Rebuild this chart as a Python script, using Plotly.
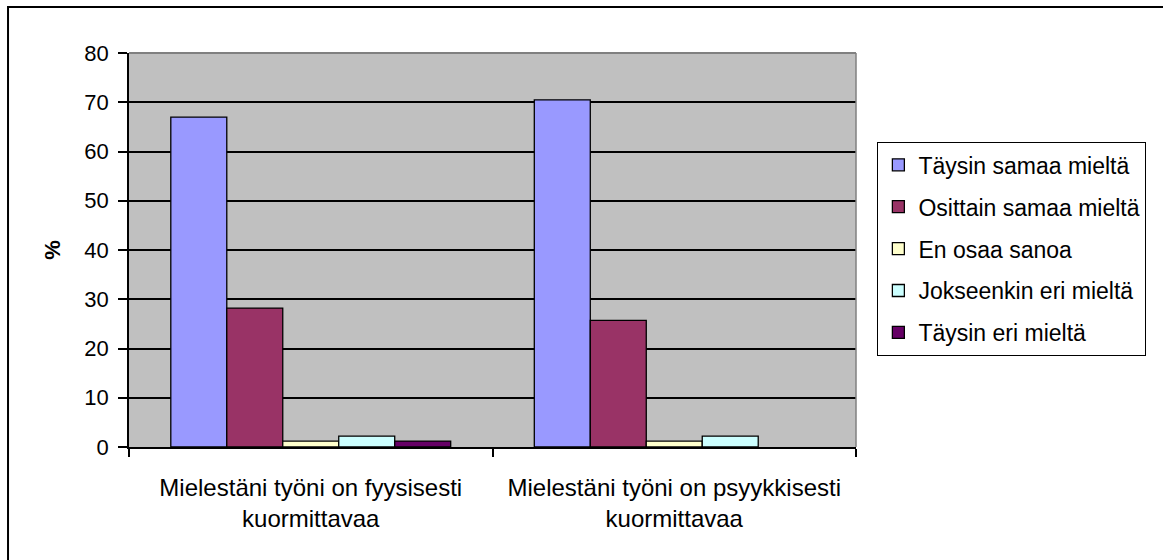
import plotly.graph_objects as go

categories = ["Mielestäni työni on fyysisesti<br>kuormittavaa",
              "Mielestäni työni on psyykkisesti<br>kuormittavaa"]
series_names = ["Täysin samaa mieltä", "Osittain samaa mieltä", "En osaa sanoa",
                "Jokseenkin eri mieltä", "Täysin eri mieltä"]
taysin_samaa = [67.0, 70.5]
osittain_samaa = [28.2, 25.7]
en_osaa = [1.2, 1.2]
jokseenkin_eri = [2.2, 2.2]
taysin_eri = [1.2, None]
series_values = [taysin_samaa, osittain_samaa, en_osaa, jokseenkin_eri, taysin_eri]
colors = ["#9999FF", "#993366", "#FFFFCC", "#CCFFFF", "#660066"]
y_ticks = [0, 10, 20, 30, 40, 50, 60, 70, 80]

FONT = "Liberation Sans, Arial, sans-serif"

fig = go.Figure()
for i, (name, vals, col) in enumerate(zip(series_names, series_values, colors)):
    fig.add_trace(go.Bar(
        x=categories, y=vals, name=name, legendgroup=f"g{i}",
        marker=dict(color=col, line=dict(color="black", width=1.3)),
    ))

fig.update_layout(
    width=1163, height=560,
    margin=dict(l=129, r=307, t=53, b=113),
    paper_bgcolor="white", plot_bgcolor="#C0C0C0",
    barmode="group", bargap=0.23, bargroupgap=0,
    font=dict(family=FONT, color="black"),
    showlegend=True,
    legend=dict(
        x=1.029, y=0.774, xanchor="left", yanchor="top",
        bgcolor="white", bordercolor="black", borderwidth=1.3,
        font=dict(size=23, family=FONT, color="black"),
        tracegroupgap=9, itemclick=False,
    ),
    xaxis=dict(
        showline=True, linecolor="black", linewidth=1.6,
        ticks="outside", ticklen=8, tickwidth=1.6, tickcolor="black", tickson="boundaries",
        tickfont=dict(size=24, family=FONT, color="black"),
        showgrid=False, ticklabelstandoff=18,
    ),
    yaxis=dict(
        range=[0, 80], tickvals=y_ticks,
        showline=True, linecolor="black", linewidth=1.6,
        ticks="outside", ticklen=9, tickwidth=1.6, tickcolor="black",
        tickfont=dict(size=22, family=FONT, color="black"),
        showgrid=True, gridcolor="black", gridwidth=1.6,
        zeroline=False, ticklabelstandoff=5,
        title=dict(text="<b>%</b>", font=dict(size=22, family=FONT, color="black"), standoff=18),
    ),
    shapes=[
        dict(type="line", xref="x domain", yref="y domain", x0=0, x1=1, y0=1, y1=1,
             line=dict(color="#808080", width=1.8), layer="above"),
        dict(type="line", xref="x domain", yref="y domain", x0=1, x1=1, y0=0, y1=1,
             line=dict(color="#808080", width=1.5), layer="above"),
        dict(type="rect", xref="paper", yref="paper", x0=-0.1664, x1=1.45, y0=-0.35, y1=1.1168,
             line=dict(color="black", width=2), fillcolor="rgba(0,0,0,0)", layer="above"),
    ],
)

fig.write_html("out.html")
